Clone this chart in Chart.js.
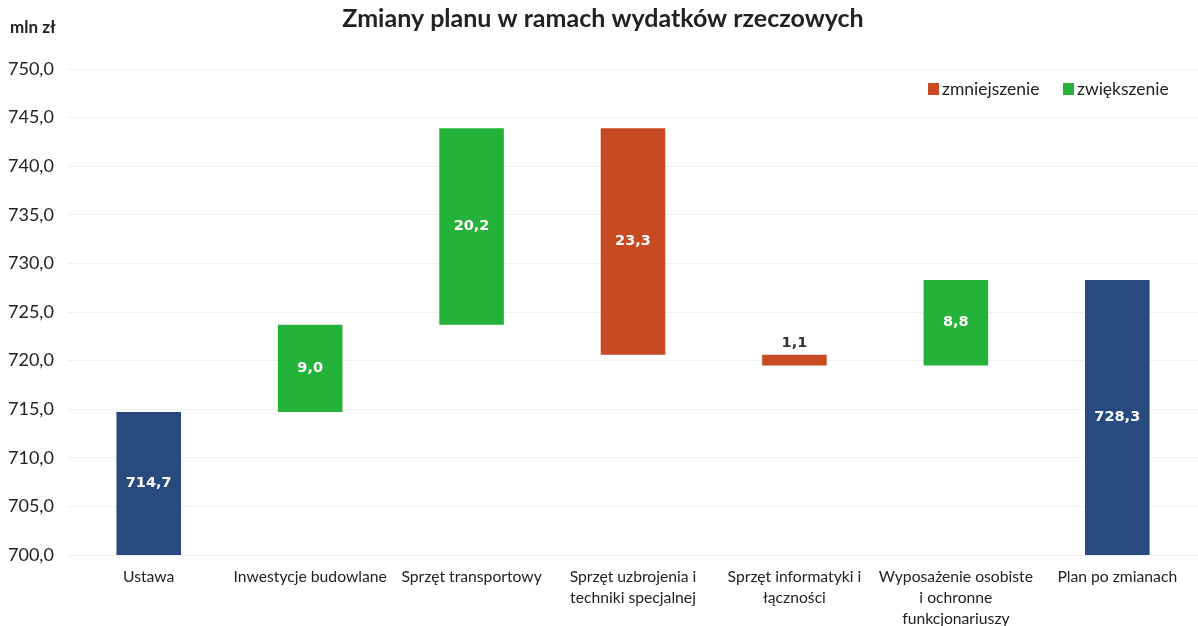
<!DOCTYPE html>
<html><head><meta charset="utf-8">
<script src="https://cdn.jsdelivr.net/npm/chart.js@4.4.1/dist/chart.umd.min.js"></script>
<style>html,body{margin:0;padding:0;background:#fff}#wrap{position:relative;width:1198px;height:626px}</style>
</head><body><div id="wrap"><canvas id="c" width="1198" height="626"></canvas></div>
<script>
const categories = ["Ustawa","Inwestycje budowlane","Sprzęt transportowy",["Sprzęt uzbrojenia i","techniki specjalnej"],["Sprzęt informatyki i","łączności"],["Wyposażenie osobiste","i ochronne","funkcjonariuszy"],"Plan po zmianach"];
const startValue = 714.7;
const changes = [9.0, 20.2, -23.3, -1.1, 8.8];
const endValue = 728.3;
const yTicks = [700,705,710,715,720,725,730,735,740,745,750];
const legendLabels = ["zmniejszenie","zwiększenie"];

const BLUE='#284a7e', GREEN='#25b23a', RED='#c74a22';
const n = categories.length;
const totals = new Array(n).fill(null), ups = new Array(n).fill(null), downs = new Array(n).fill(null);
totals[0] = [700, startValue]; totals[n-1] = [700, endValue];
let cum = startValue;
changes.forEach((d,i)=>{const a=cum, b=cum+d; cum=b; const r=[Math.min(a,b),Math.max(a,b)]; if(d>=0) ups[i+1]=r; else downs[i+1]=r;});
const fmt = v => Math.abs(v).toFixed(1).replace('.',',');
const labelVals = [startValue, ...changes, endValue];

const overlay = {
  id:'overlay',
  afterDatasetsDraw(chart){
    const ctx = chart.ctx;
    ctx.save();
    ctx.font = 'bold 14.5px "DejaVu Sans"';
    ctx.textAlign='center'; ctx.textBaseline='middle';
    chart.data.datasets.forEach((ds,di)=>{
      const meta = chart.getDatasetMeta(di);
      meta.data.forEach((bar,i)=>{
        const r = ds.data[i]; if(!r) return;
        const v = labelVals[i];
        const h = Math.abs(bar.base - bar.y);
        if(h < 25){ ctx.fillStyle='#333'; ctx.fillText(fmt(v), bar.x, Math.min(bar.y,bar.base)-12); }
        else { ctx.fillStyle='#fff'; ctx.fillText(fmt(v), bar.x, (bar.y+bar.base)/2); }
      });
    });
    ctx.font='bold 17px Lato'; ctx.fillStyle='#222'; ctx.textAlign='left';
    ctx.fillText('mln zł', 10, 28);
    const items=[[legendLabels[0],RED,928],[legendLabels[1],GREEN,1063]];
    ctx.font='17.5px Lato';
    items.forEach(([t,c,x])=>{ctx.fillStyle=c; ctx.fillRect(x,83,11,12); ctx.fillStyle='#222'; ctx.fillText(t,x+14,89);});
    ctx.restore();
  }
};

new Chart(document.getElementById('c'),{
  type:'bar',
  data:{labels:categories,datasets:[
    {label:'total',data:totals,backgroundColor:BLUE,grouped:false,barPercentage:0.4,categoryPercentage:1},
    {label:legendLabels[0],data:downs,backgroundColor:RED,grouped:false,barPercentage:0.4,categoryPercentage:1},
    {label:legendLabels[1],data:ups,backgroundColor:GREEN,grouped:false,barPercentage:0.4,categoryPercentage:1}
  ]},
  options:{
    responsive:false,animation:false,
    layout:{padding:{left:8,right:0,top:0,bottom:0}},
    plugins:{
      legend:{display:false},tooltip:{enabled:false},
      title:{display:true,text:'Zmiany planu w ramach wydatków rzeczowych',font:{family:'Lato',size:25,weight:'bold'},color:'#222',padding:{top:4,bottom:35}}
    },
    scales:{
      x:{grid:{display:false},border:{display:false},ticks:{color:'#222',font:{family:'Lato',size:15.7,lineHeight:1.35},maxRotation:0,autoSkip:false,padding:3},
         afterFit(ax){ax.height=71;}},
      y:{min:700,max:750,afterBuildTicks(ax){ax.ticks=yTicks.map(v=>({value:v}));},
         grid:{color:'#f0f0f0',drawTicks:false},border:{display:false},
         ticks:{color:'#222',font:{family:'Lato',size:18},crossAlign:'far',padding:12,callback:v=>v.toFixed(1).replace('.',',')},
         afterFit(ax){ax.width=60;}}
    }
  },
  plugins:[overlay]
});
</script></body></html>
